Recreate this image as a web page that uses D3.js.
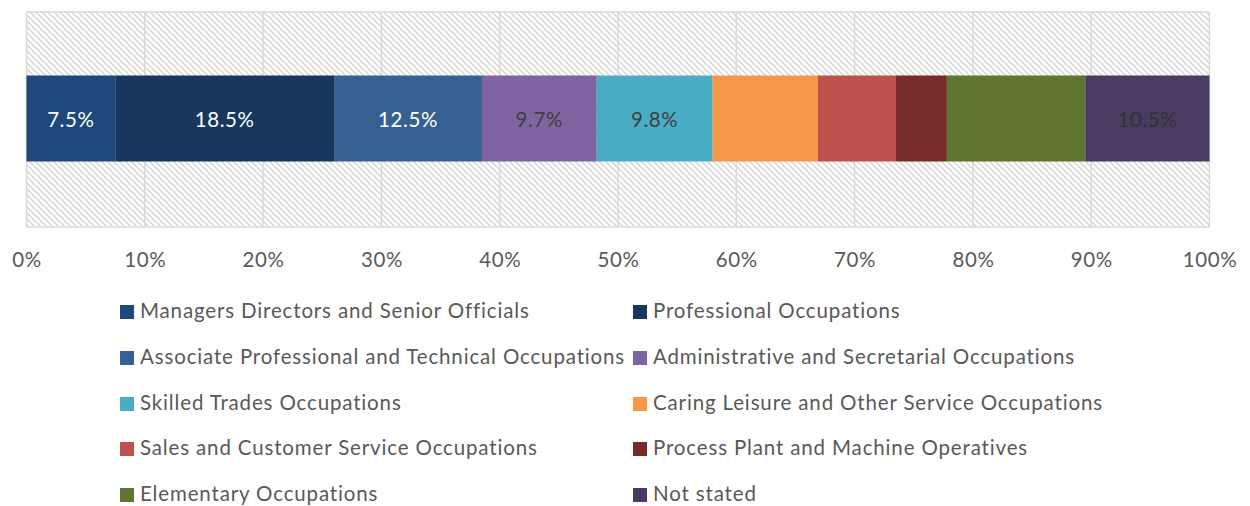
<!DOCTYPE html>
<html>
<head>
<meta charset="utf-8">
<script src="https://cdn.jsdelivr.net/npm/d3@7"></script>
<style>
  body { margin: 0; background: #fff; }
  svg { font-family: Lato, "Open Sans", sans-serif; }
</style>
</head>
<body>
<div id="chart-area"><svg></svg></div>
<script>
const categories = [
  "Managers Directors and Senior Officials",
  "Professional Occupations",
  "Associate Professional and Technical Occupations",
  "Administrative and Secretarial Occupations",
  "Skilled Trades Occupations",
  "Caring Leisure and Other Service Occupations",
  "Sales and Customer Service Occupations",
  "Process Plant and Machine Operatives",
  "Elementary Occupations",
  "Not stated"
];
const shares = [7.5, 18.5, 12.5, 9.7, 9.8, 8.9, 6.6, 4.3, 11.7, 10.5];
const shownLabels = ["7.5%", "18.5%", "12.5%", "9.7%", "9.8%", null, null, null, null, "10.5%"];
const colours = ["#1f497d", "#17375e", "#366092", "#8064a2", "#4bacc6",
                 "#f79646", "#c0504d", "#772c2a", "#5f7530", "#4a3b62"];
const labelColours = ["#fff", "#fff", "#fff", "#404040", "#404040",
                      "#404040", "#404040", "#404040", "#404040", "#333"];
const ticks = [0, 10, 20, 30, 40, 50, 60, 70, 80, 90, 100];

const chartSize = { width: 1250, height: 506 };
const plot = { left: 26.5, right: 1209.5, top: 12, bottom: 227 };

const svg = d3.select("#chart-area svg")
  .attr("width", chartSize.width)
  .attr("height", chartSize.height);

const defs = svg.append("defs");
const pat = defs.append("pattern")
  .attr("id", "hatch")
  .attr("patternUnits", "userSpaceOnUse")
  .attr("width", 6).attr("height", 6);
pat.append("rect").attr("width", 6).attr("height", 6).attr("fill", "#fff");
pat.append("path")
  .attr("d", "M-1,-1 L7,7 M-4,2 L1,7 M2,-4 L7,1")
  .attr("stroke", "#d6d6d6").attr("stroke-width", 1.5);

const x = d3.scaleLinear().domain([0, 100]).range([plot.left, plot.right]);
const y = d3.scaleBand().domain(["bar"]).range([plot.top, plot.bottom]).paddingInner(0.6).paddingOuter(0.3);

svg.append("rect")
  .attr("x", plot.left).attr("y", plot.top)
  .attr("width", plot.right - plot.left).attr("height", plot.bottom - plot.top)
  .attr("fill", "url(#hatch)");

// gridlines
svg.append("g")
  .selectAll("line")
  .data(ticks)
  .join("line")
  .attr("x1", d => x(d)).attr("x2", d => x(d))
  .attr("y1", plot.top).attr("y2", plot.bottom)
  .attr("stroke", "#d9d9d9").attr("stroke-width", 1.5);

svg.append("g")
  .selectAll("line")
  .data([plot.top, plot.bottom])
  .join("line")
  .attr("x1", plot.left).attr("x2", plot.right)
  .attr("y1", d => d).attr("y2", d => d)
  .attr("stroke", "#d9d9d9").attr("stroke-width", 1.5);

const stacked = [];
let acc = 0;
shares.forEach((v, i) => {
  stacked.push({ name: categories[i], start: acc, end: acc + v, i });
  acc += v;
});

const bars = svg.append("g");
bars.selectAll("rect")
  .data(stacked)
  .join("rect")
  .attr("x", d => x(d.start))
  .attr("width", d => x(d.end) - x(d.start))
  .attr("y", y("bar") - 1)
  .attr("height", y.bandwidth())
  .attr("fill", d => colours[d.i]);

bars.selectAll("text")
  .data(stacked.filter(d => shownLabels[d.i]))
  .join("text")
  .attr("x", d => (x(d.start) + x(d.end)) / 2)
  .attr("y", y("bar") + y.bandwidth() / 2)
  .attr("dy", "0.35em")
  .attr("text-anchor", "middle")
  .attr("font-size", 20.5)
  .attr("letter-spacing", 0.6)
  .attr("fill", d => labelColours[d.i])
  .text(d => shownLabels[d.i]);

const xAxis = d3.axisBottom(x).tickValues(ticks).tickFormat(d => `${d}%`).tickSize(0).tickPadding(0);
const axisG = svg.append("g")
  .attr("transform", `translate(0,${plot.bottom + 33})`)
  .call(xAxis);
axisG.select(".domain").remove();
axisG.selectAll("text")
  .attr("font-size", 20.5)
  .attr("letter-spacing", 0.6)
  .attr("font-family", "Lato, sans-serif")
  .attr("fill", "#595959")
  .attr("dy", "0.35em");

// legend
const legendCols = [120, 633];
const legendRows = [311, 357, 403, 448, 494];
const legend = svg.append("g")
  .selectAll("g")
  .data(categories)
  .join("g")
  .attr("transform", (d, i) => `translate(${legendCols[i % 2]},${legendRows[Math.floor(i / 2)]})`);

legend.append("rect")
  .attr("x", 0).attr("y", -6)
  .attr("width", 14).attr("height", 14)
  .attr("fill", (d, i) => colours[i]);

legend.append("text")
  .attr("x", 20)
  .attr("dy", "0.35em")
  .attr("font-size", 20.5)
  .attr("letter-spacing", 0.85)
  .attr("fill", "#595959")
  .text(d => d);
</script>
</body>
</html>
